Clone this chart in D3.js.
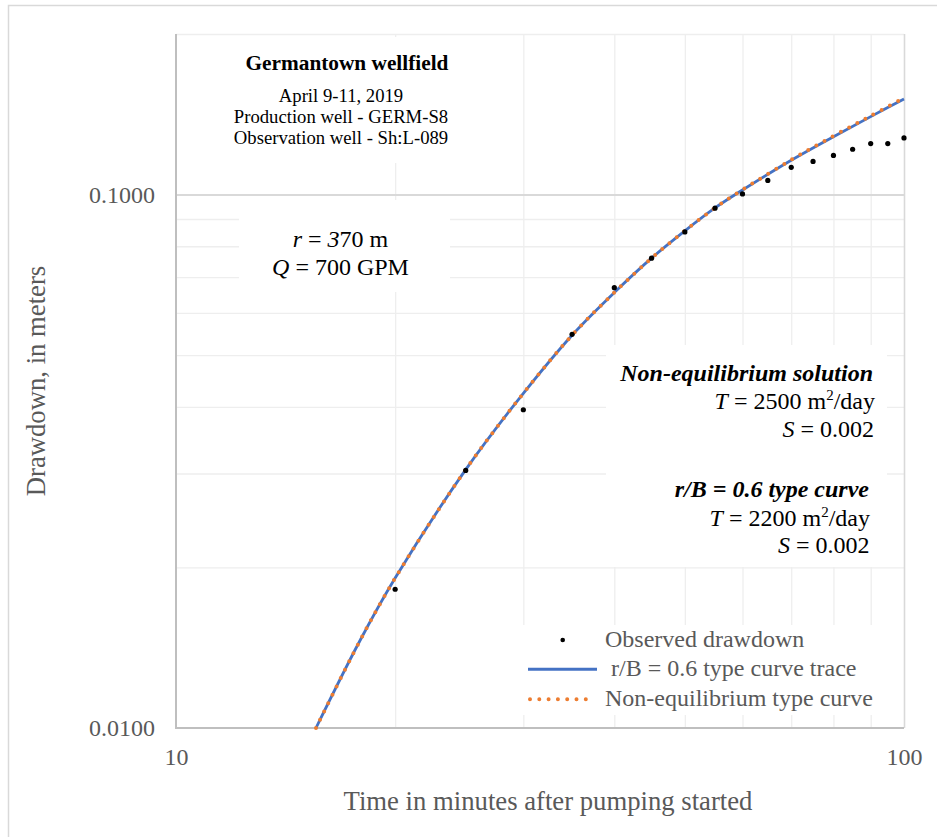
<!DOCTYPE html>
<html>
<head>
<meta charset="utf-8">
<script src="https://cdn.jsdelivr.net/npm/d3@7"></script>
<style>
  body { margin: 0; background: #ffffff; }
  text { font-family: "Liberation Serif", "Times New Roman", serif; }
</style>
</head>
<body>
<script>
// Observed drawdown at the observation well (minutes, meters)
const timeObserved = [20, 25, 30, 35, 40, 45, 50, 55, 60, 65, 70, 75, 80, 85, 90, 95, 100];
const drawdownObserved = [0.0182, 0.0304, 0.0395, 0.0547, 0.0669, 0.0760, 0.0851, 0.0943, 0.1003,
                          0.1063, 0.1125, 0.1154, 0.1184, 0.1216, 0.1246, 0.1246, 0.1277];

// Matched type curves (minutes, meters)
const timeCurve = [15.57, 17.86, 20, 25, 30, 35, 40, 45, 50, 55, 60, 70, 80, 90, 100];
const leakyTrace = [0.0100, 0.01451, 0.0191, 0.0305, 0.0424, 0.0545, 0.0655, 0.0760, 0.0855,
                    0.0944, 0.1020, 0.1160, 0.1284, 0.1400, 0.1511];
const theisCurve = [0.0100, 0.01451, 0.0191, 0.0305, 0.0424, 0.0545, 0.0655, 0.0760, 0.0855,
                    0.0944, 0.1021, 0.1162, 0.1288, 0.1405, 0.1518];

// Axis ticks and grid
const xTicks = [10, 100];
const yTicks = [0.01, 0.1];
const xMinor = [20, 30, 40, 50, 60, 70, 80, 90];
const yMinor = [0.02, 0.03, 0.04, 0.05, 0.06, 0.07, 0.08, 0.09, 0.2];

// Labels
const legendLabels = ["Observed drawdown", " r/B = 0.6 type curve trace", "Non-equilibrium type curve"];
const titleLines = ["Germantown wellfield", "April 9-11, 2019", "Production well - GERM-S8", "Observation well - Sh:L-089"];

const W = 937, H = 837;
const plot = { left: 176, right: 904, top: 34, bottom: 728 };

const svg = d3.select("body").append("svg").attr("width", W).attr("height", H);

// chart frame
svg.append("rect")
  .attr("x", 8.5).attr("y", 5.5).attr("width", W + 10).attr("height", H + 10)
  .attr("fill", "#ffffff").attr("stroke", "#d9d9d9").attr("stroke-width", 1.5);

const x = d3.scaleLog().domain([10, 100]).range([plot.left, plot.right]);
const y = d3.scaleLog().domain([0.01, 0.2]).range([plot.bottom, plot.top]);
const plotH = plot.bottom - plot.top;
const plotW = plot.right - plot.left;

// gridlines
function styleGrid(g, color, width) {
  g.select(".domain").remove();
  g.selectAll(".tick line").attr("stroke", color).attr("stroke-width", width);
  g.selectAll(".tick text").remove();
}
svg.append("g").attr("transform", `translate(0,${plot.bottom})`)
  .call(d3.axisBottom(x).tickValues(xMinor).tickSize(-plotH).tickFormat(""))
  .call(g => styleGrid(g, "#eeeeee", 1.3));
svg.append("g").attr("transform", `translate(${plot.left},0)`)
  .call(d3.axisLeft(y).tickValues(yMinor).tickSize(-plotW).tickFormat(""))
  .call(g => styleGrid(g, "#eeeeee", 1.3));
svg.append("g").attr("transform", `translate(0,${plot.bottom})`)
  .call(d3.axisBottom(x).tickValues([100]).tickSize(-plotH).tickFormat(""))
  .call(g => styleGrid(g, "#d9d9d9", 1.6));
svg.append("g").attr("transform", `translate(${plot.left},0)`)
  .call(d3.axisLeft(y).tickValues([0.1]).tickSize(-plotW).tickFormat(""))
  .call(g => styleGrid(g, "#d9d9d9", 2));

// white text boxes over the grid
const boxes = [
  [220, 37, 250, 126],   // heading
  [239, 200, 211, 92],   // r and Q
  [606, 345, 281, 222],  // fitted parameters
  [520, 625, 370, 90]    // legend
];
svg.append("g").selectAll("rect").data(boxes).join("rect")
  .attr("x", d => d[0]).attr("y", d => d[1]).attr("width", d => d[2]).attr("height", d => d[3])
  .attr("fill", "#ffffff");

// axis lines
svg.append("line").attr("x1", plot.left).attr("x2", plot.left).attr("y1", plot.top).attr("y2", plot.bottom + 1)
  .attr("stroke", "#bfbfbf").attr("stroke-width", 2);
svg.append("line").attr("x1", plot.left - 1).attr("x2", plot.right).attr("y1", plot.bottom).attr("y2", plot.bottom)
  .attr("stroke", "#bfbfbf").attr("stroke-width", 2);

// tick labels
const yAxis = svg.append("g").attr("transform", `translate(${plot.left},0)`)
  .call(d3.axisLeft(y).tickValues(yTicks).tickSize(0).tickPadding(21).tickFormat(d3.format(".4f")));
const xAxis = svg.append("g").attr("transform", `translate(0,${plot.bottom})`)
  .call(d3.axisBottom(x).tickValues(xTicks).tickSize(0).tickPadding(20).tickFormat(d => d));
[yAxis, xAxis].forEach(a => {
  a.select(".domain").remove();
  a.selectAll("text").attr("font-family", "Liberation Serif, Times New Roman, serif")
    .attr("font-size", 24).attr("fill", "#595959");
});

// axis titles
svg.append("text").attr("x", 548).attr("y", 810).attr("text-anchor", "middle")
  .attr("font-size", 26.7).attr("fill", "#595959").text("Time in minutes after pumping started");
svg.append("text").attr("transform", `translate(45,${(plot.top + plot.bottom) / 2}) rotate(-90)`)
  .attr("text-anchor", "middle").attr("font-size", 26.7).attr("fill", "#595959")
  .text("Drawdown, in meters");

// series
const line = d3.line().x(d => x(d[0])).y(d => y(d[1])).curve(d3.curveCatmullRom.alpha(0.5));
svg.append("path").datum(timeCurve.map((t, i) => [t, leakyTrace[i]]))
  .attr("d", line).attr("fill", "none").attr("stroke", "#4472c4").attr("stroke-width", 2.8);
svg.append("path").datum(timeCurve.map((t, i) => [t, theisCurve[i]]))
  .attr("d", line).attr("fill", "none").attr("stroke", "#ed7d31").attr("stroke-width", 4)
  .attr("stroke-linecap", "round").attr("stroke-dasharray", "0 9.3");
svg.append("g").selectAll("circle").data(timeObserved.map((t, i) => [t, drawdownObserved[i]])).join("circle")
  .attr("cx", d => x(d[0])).attr("cy", d => y(d[1])).attr("r", 2.6).attr("fill", "#000000");

// heading block
const head = svg.append("g").attr("fill", "#000000");
head.append("text").attr("x", 347).attr("y", 70).attr("text-anchor", "middle")
  .attr("font-size", 21.3).attr("font-weight", "bold").text(titleLines[0]);
[101.7, 122.7, 144].forEach((yy, i) => {
  head.append("text").attr("x", 341).attr("y", yy).attr("text-anchor", "middle")
    .attr("font-size", 18.7).text(titleLines[i + 1]);
});

// well distance and pumping rate
const rq = svg.append("g").attr("fill", "#000000").attr("font-size", 24).attr("text-anchor", "middle");
const r1 = rq.append("text").attr("x", 340.5).attr("y", 246.7);
r1.append("tspan").attr("font-style", "italic").text("r");
r1.append("tspan").text(" = ");
r1.append("tspan").attr("font-style", "italic").text("3");
r1.append("tspan").text("70 m");
const r2 = rq.append("text").attr("x", 340.5).attr("y", 275);
r2.append("tspan").attr("font-style", "italic").text("Q");
r2.append("tspan").text(" = 700 GPM");

// fitted parameter blocks
const pars = svg.append("g").attr("fill", "#000000").attr("font-size", 24).attr("text-anchor", "end");
function tLine(xx, yy, val) {
  const t = pars.append("text").attr("x", xx).attr("y", yy);
  t.append("tspan").attr("font-style", "italic").text("T");
  t.append("tspan").text(` = ${val} m`);
  t.append("tspan").attr("font-size", 15).attr("dy", -9).text("2");
  t.append("tspan").attr("dy", 9).text("/day");
}
function sLine(xx, yy, val) {
  const t = pars.append("text").attr("x", xx).attr("y", yy);
  t.append("tspan").attr("font-style", "italic").text("S");
  t.append("tspan").text(` = ${val}`);
}
pars.append("text").attr("x", 873).attr("y", 381).attr("font-weight", "bold").attr("font-style", "italic")
  .text("Non-equilibrium solution");
tLine(875, 408.5, "2500");
sLine(874, 436.5, "0.002");
pars.append("text").attr("x", 869).attr("y", 497).attr("font-weight", "bold").attr("font-style", "italic")
  .text("r/B = 0.6 type curve");
tLine(870, 525.5, "2200");
sLine(869.5, 553, "0.002");

// legend
const lg = svg.append("g");
lg.append("circle").attr("cx", 562.7).attr("cy", 640).attr("r", 2.3).attr("fill", "#000000");
lg.append("line").attr("x1", 528).attr("x2", 597).attr("y1", 669.3).attr("y2", 669.3)
  .attr("stroke", "#4472c4").attr("stroke-width", 3);
lg.append("line").attr("x1", 530).attr("x2", 590).attr("y1", 699.3).attr("y2", 699.3)
  .attr("stroke", "#ed7d31").attr("stroke-width", 4).attr("stroke-linecap", "round")
  .attr("stroke-dasharray", "0 9.3");
[646.7, 676, 706].forEach((yy, i) => {
  lg.append("text").attr("x", 605).attr("y", yy).attr("font-size", 24).attr("fill", "#595959")
    .style("white-space", "pre").text(legendLabels[i]);
});
</script>
</body>
</html>
